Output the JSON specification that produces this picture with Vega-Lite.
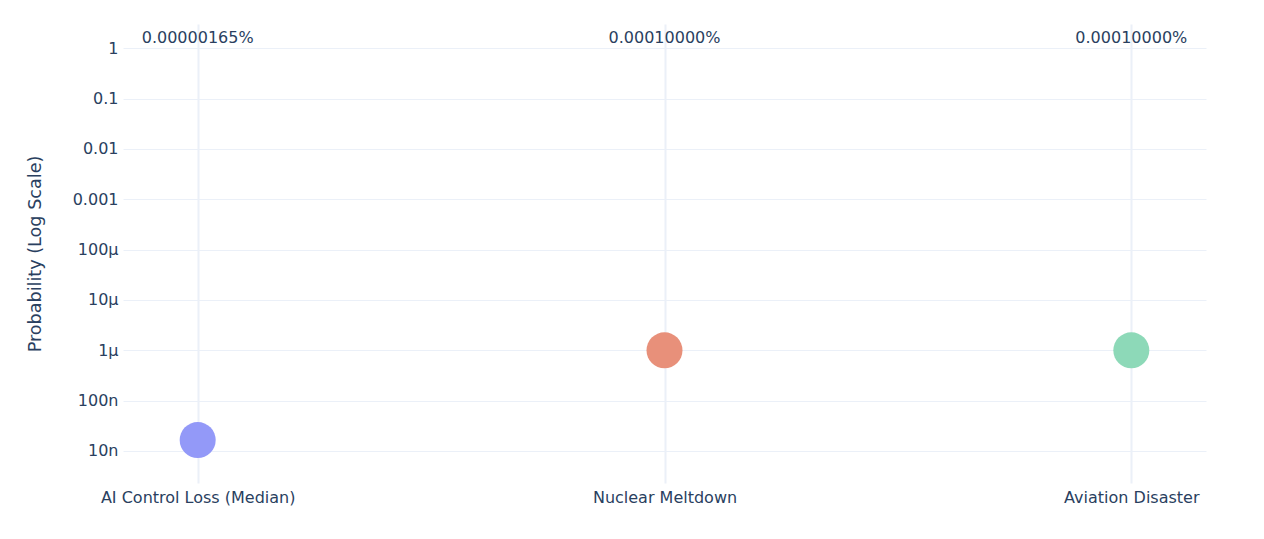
{
  "$schema": "https://vega.github.io/schema/vega-lite/v6.json",
  "width": 1083,
  "height": 459,
  "autosize": {"type": "none"},
  "padding": {"left": 123, "top": 24, "right": 58, "bottom": 56},
  "background": "white",
  "data": {
    "values": [
      {"event": "AI Control Loss (Median)", "probability": 1.65e-8, "label": "0.00000165%"},
      {"event": "Nuclear Meltdown", "probability": 1e-6, "label": "0.00010000%"},
      {"event": "Aviation Disaster", "probability": 1e-6, "label": "0.00010000%"}
    ]
  },
  "encoding": {
    "x": {
      "field": "event",
      "type": "nominal",
      "sort": null,
      "scale": {"type": "point", "padding": 0.16},
      "axis": {
        "title": null,
        "labelAngle": 0,
        "labelPadding": 6,
        "labelLimit": 0,
        "grid": true,
        "gridColor": "#EBF0F8",
        "gridWidth": 2,
        "domain": false,
        "ticks": false
      }
    }
  },
  "layer": [
    {
      "mark": {"type": "circle", "size": 1296, "opacity": 1},
      "encoding": {
        "y": {
          "field": "probability",
          "type": "quantitative",
          "scale": {"type": "log", "domain": [2.31e-9, 3.04], "nice": false},
          "axis": {
            "title": "Probability (Log Scale)",
            "titleFontSize": 17.6,
            "titleFontWeight": "normal",
            "titlePadding": 28,
            "values": [1e-8, 1e-7, 1e-6, 1e-5, 1e-4, 0.001, 0.01, 0.1, 1],
            "labelExpr": "datum.value >= 0.001 ? format(datum.value, '~g') : format(datum.value, '~s')",
            "grid": true,
            "gridColor": "#EBF0F8",
            "gridWidth": 1,
            "domain": false,
            "ticks": false,
            "labelPadding": 5
          }
        },
        "color": {
          "field": "event",
          "type": "nominal",
          "sort": null,
          "legend": null,
          "scale": {
            "domain": ["AI Control Loss (Median)", "Nuclear Meltdown", "Aviation Disaster"],
            "range": ["#9399F8", "#E8907A", "#8DD9B8"]
          }
        }
      }
    },
    {
      "mark": {"type": "text", "fontSize": 16, "dy": -10, "color": "#2a3f5f"},
      "encoding": {
        "y": {"datum": 1, "type": "quantitative"},
        "text": {"field": "label"}
      }
    }
  ],
  "config": {
    "font": "DejaVu Sans",
    "view": {"stroke": null},
    "axis": {
      "labelFont": "DejaVu Sans",
      "titleFont": "DejaVu Sans",
      "labelFontSize": 16,
      "labelColor": "#2a3f5f",
      "titleColor": "#2a3f5f"
    }
  }
}
